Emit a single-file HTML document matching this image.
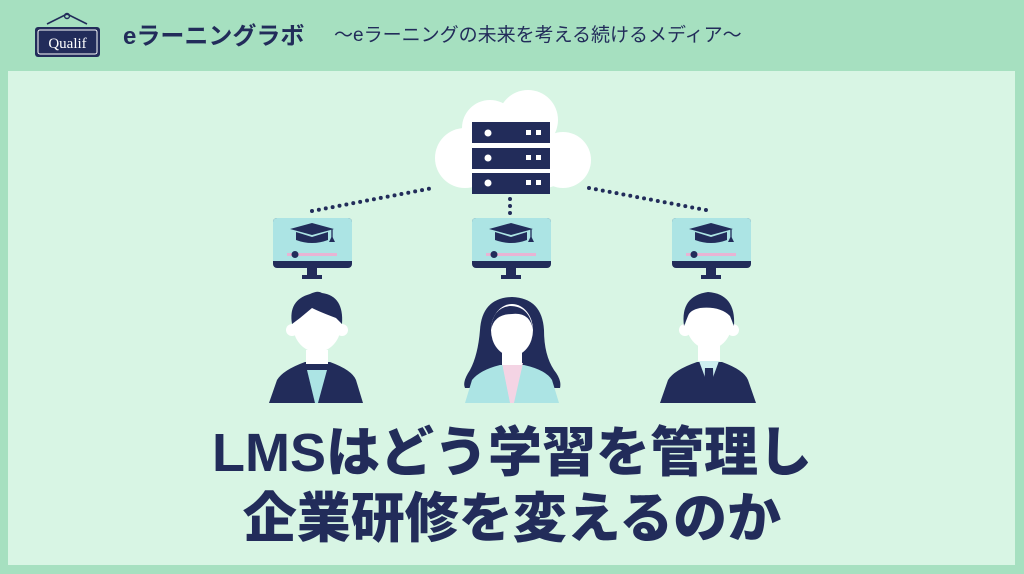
<!DOCTYPE html>
<html><head><meta charset="utf-8"><style>
body{margin:0;width:1024px;height:574px;background:#a6e0c0;position:relative;overflow:hidden;font-family:"Liberation Sans","Noto Sans CJK JP",sans-serif}
.panel{position:absolute;left:8px;top:71px;width:1007px;height:494px;background:#d8f5e4}
.h1{position:absolute;left:123px;top:16px;font-size:24px;font-weight:bold;color:#222c5a;white-space:nowrap}
.h2{position:absolute;left:334px;top:20px;font-size:19px;color:#222c5a;white-space:nowrap}
.t{position:absolute;left:0;width:1024px;text-align:center;font-size:54px;font-weight:900;color:#222c5a;white-space:nowrap;line-height:1}
</style></head><body>
<div class="panel"></div>
<svg width="1024" height="574" style="position:absolute;left:0;top:0">
<path d="M47 24 L67 14 L87 24" stroke="#222c5a" stroke-width="1.6" fill="none"/>
<circle cx="67" cy="16" r="2.5" fill="none" stroke="#222c5a" stroke-width="1.4"/>
<rect x="35" y="27" width="65" height="30" rx="3" fill="#222c5a"/>
<rect x="38" y="30" width="59" height="24" rx="2" fill="none" stroke="#fff" stroke-width="1"/>
<text x="67.5" y="48" text-anchor="middle" font-family="Liberation Serif,serif" font-size="15" fill="#fff">Qualif</text>
<g fill="#fff">
<circle cx="465" cy="158" r="30"/><circle cx="490" cy="128" r="28"/><circle cx="528" cy="120" r="30"/><circle cx="563" cy="160" r="28"/>
<rect x="465" y="140" width="100" height="48" rx="20"/>
</g>
<g fill="#222c5a">
<rect x="472" y="122" width="78" height="21"/><rect x="472" y="148" width="78" height="21"/><rect x="472" y="173" width="78" height="21"/>
</g>
<g fill="#fff">
<circle cx="488" cy="133" r="3.5"/><circle cx="488" cy="158" r="3.5"/><circle cx="488" cy="183" r="3.5"/>
<rect x="526" y="130" width="5" height="5"/><rect x="536" y="130" width="5" height="5"/>
<rect x="526" y="155" width="5" height="5"/><rect x="536" y="155" width="5" height="5"/>
<rect x="526" y="180" width="5" height="5"/><rect x="536" y="180" width="5" height="5"/>
</g>
<g stroke="#222c5a" stroke-width="4" stroke-linecap="round" stroke-dasharray="0 7" fill="none">
<line x1="312" y1="211" x2="433" y2="188"/>
<line x1="510" y1="199" x2="510" y2="214"/>
<line x1="589" y1="188" x2="711" y2="211"/>
</g>
<defs>
<g id="mon">
<rect x="0" y="0" width="79" height="50" rx="4" fill="#222c5a"/>
<rect x="0" y="0" width="79" height="43" rx="4" fill="#ace4e4"/>
<rect x="0" y="36" width="79" height="7" fill="#ace4e4"/>
<rect x="34" y="50" width="10" height="8" fill="#222c5a"/>
<rect x="29" y="57" width="20" height="4" fill="#222c5a"/>
<path d="M17 11 L39 5 L61 11 L39 17Z" fill="#222c5a"/>
<path d="M23 14 L23 22 Q39 28 55 22 L55 14 L39 19Z" fill="#222c5a"/>
<line x1="59" y1="11" x2="59" y2="21" stroke="#222c5a" stroke-width="1.3"/>
<path d="M56 24 L59 18 L62 24Z" fill="#222c5a"/>
<rect x="14" y="35" width="50" height="3" fill="#e8b4d4"/>
<circle cx="22" cy="36.5" r="3.5" fill="#222c5a"/>
</g>
</defs>
<use href="#mon" x="273" y="218"/>
<use href="#mon" x="472" y="218"/>
<use href="#mon" x="672" y="218"/>
<path d="M269 403 L277 380 Q283 370 305 362 L330 362 Q352 370 356 380 L363 403Z" fill="#222c5a"/>
<path d="M307 370 L327 370 L318 403 L315 403Z" fill="#ace4e4"/>
<rect x="306" y="350" width="22" height="14" fill="#fff"/>
<ellipse cx="317" cy="325" rx="24" ry="27" fill="#fff"/>
<circle cx="292" cy="330" r="6" fill="#fff"/><circle cx="342" cy="330" r="6" fill="#fff"/>
<path d="M292 324 Q288 300 310 294 Q318 290 322 293 Q344 296 342 324 L336 318 Q320 312 312 308 L300 318Z" fill="#222c5a"/>
<path d="M512 297 Q482 298 480 330 Q478 355 470 370 Q462 382 465 388 L560 388 Q562 380 554 370 Q544 355 544 330 Q542 298 512 297Z" fill="#222c5a"/>
<path d="M465 403 L472 380 Q480 370 500 365 L524 365 Q546 370 552 380 L559 403Z" fill="#ace4e4"/>
<path d="M502 363 L523 363 L514 403 L510 403Z" fill="#f4d4e4"/>
<rect x="502" y="345" width="20" height="20" fill="#fff"/>
<ellipse cx="512" cy="330" rx="21" ry="26" fill="#fff"/>
<path d="M491 330 Q492 308 510 306 Q530 306 533 330 Q530 312 512 314 Q494 314 491 330Z" fill="#222c5a"/>
<path d="M660 403 L668 380 Q674 370 697 362 L722 362 Q744 370 748 380 L756 403Z" fill="#222c5a"/>
<path d="M699 361 L719 361 L712 380 L706 380Z" fill="#cdeef0"/>
<path d="M705 368 L713 368 L714 398 L709 403 L704 398Z" fill="#222c5a"/>
<rect x="698" y="345" width="22" height="16" fill="#fff"/>
<ellipse cx="709" cy="322" rx="23" ry="27" fill="#fff"/>
<circle cx="685" cy="330" r="6" fill="#fff"/><circle cx="733" cy="330" r="6" fill="#fff"/>
<path d="M684 326 Q680 296 708 292 Q736 294 734 326 L730 316 Q720 306 700 308 Q690 310 688 316Z" fill="#222c5a"/>
</svg>
<div class="h1">eラーニングラボ</div>
<div class="h2">〜eラーニングの未来を考える続けるメディア〜</div>
<div class="t" style="top:426px">LMSはどう学習を管理し</div>
<div class="t" style="top:492px">企業研修を変えるのか</div>
</body></html>
